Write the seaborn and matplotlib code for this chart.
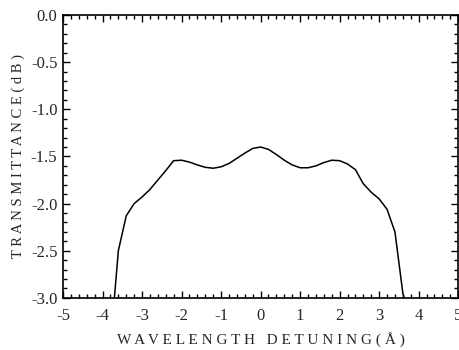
import numpy as np
import pandas as pd
import seaborn as sns
from matplotlib import pyplot as plt
from matplotlib.ticker import MultipleLocator

# wavelength detuning (A) and transmittance (dB)
detuning = [-3.70, -3.60, -3.40, -3.20, -3.00, -2.80, -2.60, -2.40, -2.20, -2.00,
            -1.80, -1.60, -1.40, -1.20, -1.00, -0.80, -0.60, -0.40, -0.20, 0.00,
            0.20, 0.40, 0.60, 0.80, 1.00, 1.20, 1.40, 1.60, 1.80, 2.00,
            2.20, 2.40, 2.60, 2.80, 3.00, 3.20, 3.40, 3.60, 3.63]
transmittance = [-3.00, -2.50, -2.13, -2.00, -1.93, -1.85, -1.75, -1.65, -1.545, -1.54,
                 -1.56, -1.59, -1.615, -1.625, -1.61, -1.575, -1.52, -1.465, -1.415, -1.40,
                 -1.425, -1.48, -1.54, -1.59, -1.62, -1.62, -1.60, -1.565, -1.54, -1.545,
                 -1.58, -1.64, -1.79, -1.88, -1.95, -2.06, -2.30, -2.95, -3.00]

df = pd.DataFrame({"x": detuning, "y": transmittance})

sns.set_style("ticks")
plt.rcParams['font.family'] = ['Liberation Serif', 'DejaVu Serif']
plt.rcParams['font.size'] = 10

fig = plt.figure(figsize=(4.6, 3.5), dpi=100)
ax = fig.add_axes([0.137, 0.149, 0.859, 0.808])

sns.lineplot(data=df, x="x", y="y", color="black", linewidth=1.1, ax=ax, sort=False)

ax.set_xlim(-5, 5)
ax.set_ylim(-3.0, 0.0)
ax.xaxis.set_major_locator(MultipleLocator(1))
ax.xaxis.set_minor_locator(MultipleLocator(0.2))
ax.yaxis.set_major_locator(MultipleLocator(0.5))
ax.yaxis.set_minor_locator(MultipleLocator(0.1))
ax.set_yticks(np.arange(-3.0, 0.01, 0.5))
ax.set_yticklabels(["%.1f" % v for v in np.arange(-3.0, 0.01, 0.5)])
ax.set_xticklabels([str(int(v)) for v in ax.get_xticks()])

ax.tick_params(which="both", direction="in", top=True, right=True, color="black", width=1)
ax.tick_params(which="major", length=5, labelsize=12)
ax.tick_params(axis="x", which="major", pad=7)
ax.tick_params(axis="y", which="major", pad=4)
ax.tick_params(which="minor", length=3)
for s in ax.spines.values():
    s.set_linewidth(1.2)
    s.set_color("black")

ax.set_xlabel("W A V E L E N G T H   D E T U N I N G ( Å )", fontsize=11, labelpad=6)
ax.set_ylabel("T R A N S M I T T A N C E ( d B )", fontsize=10.5, labelpad=4)

fig.savefig("out.png", dpi=100)
